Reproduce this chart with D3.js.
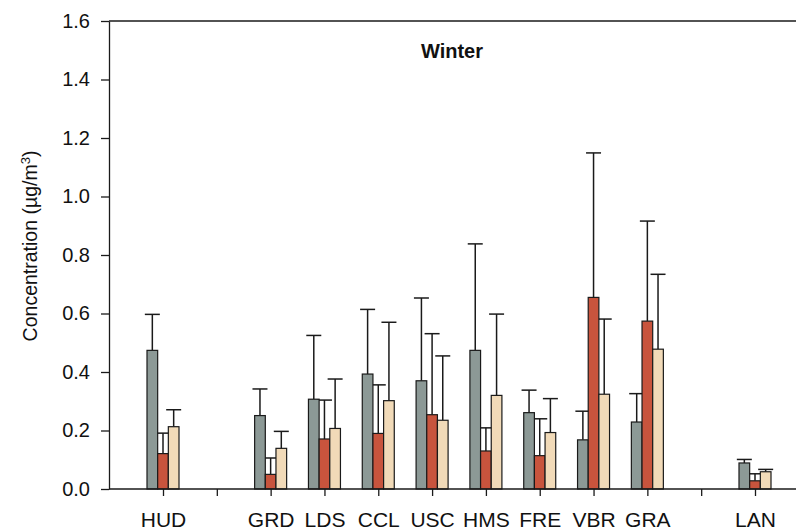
<!DOCTYPE html>
<html>
<head>
<meta charset="utf-8">
<script src="https://cdn.jsdelivr.net/npm/d3@7"></script>
<style>
  html, body { margin: 0; padding: 0; background: #fff; }
  svg { display: block; font-family: "Liberation Sans", Arial, sans-serif; }
</style>
</head>
<body>
<svg id="chart" width="796" height="530"></svg>
<script>
// ---- data ----
const slots = ["HUD", "gap1", "GRD", "LDS", "CCL", "USC", "HMS", "FRE", "VBR", "GRA", "gap2", "LAN"];
const categories = ["HUD", "GRD", "LDS", "CCL", "USC", "HMS", "FRE", "VBR", "GRA", "LAN"];
const seriesNames = ["s1", "s2", "s3"];
const s1Values = [0.474, 0.251, 0.307, 0.393, 0.370, 0.474, 0.261, 0.168, 0.229, 0.089];
const s1Upper  = [0.597, 0.342, 0.525, 0.614, 0.653, 0.838, 0.338, 0.266, 0.326, 0.101];
const s2Values = [0.121, 0.050, 0.171, 0.190, 0.254, 0.130, 0.114, 0.655, 0.574, 0.028];
const s2Upper  = [0.191, 0.106, 0.304, 0.356, 0.531, 0.209, 0.240, 1.149, 0.916, 0.052];
const s3Values = [0.213, 0.139, 0.207, 0.302, 0.235, 0.320, 0.193, 0.324, 0.478, 0.059];
const s3Upper  = [0.271, 0.197, 0.376, 0.570, 0.455, 0.598, 0.309, 0.581, 0.734, 0.067];
const yTicks = [0, 0.2, 0.4, 0.6, 0.8, 1.0, 1.2, 1.4, 1.6];
const colors = ["#8c9996", "#c8543d", "#f1dab8"];
const title = "Winter";

// ---- layout ----
const svg = d3.select("#chart");
const mLeft = 109, mRight = 796, mTop = 21, mBottom = 489;

const x = d3.scalePoint().domain(slots).range([163, 755]);
const xInner = d3.scaleBand().domain(seriesNames).range([-16, 16]);
const y = d3.scaleLinear().domain([0, 1.6]).range([mBottom, mTop]);

const rows = [];
categories.forEach((c, i) => {
  rows.push({cat: c, s: "s1", v: s1Values[i], u: s1Upper[i], col: colors[0]});
  rows.push({cat: c, s: "s2", v: s2Values[i], u: s2Upper[i], col: colors[1]});
  rows.push({cat: c, s: "s3", v: s3Values[i], u: s3Upper[i], col: colors[2]});
});

// error bars (drawn first, bars over)
const eb = svg.append("g").attr("stroke", "#1a1a1a").attr("stroke-width", 1.5);
rows.forEach(d => {
  const cx = x(d.cat) + xInner(d.s) + xInner.bandwidth() / 2;
  eb.append("line").attr("x1", cx).attr("x2", cx).attr("y1", y(d.v)).attr("y2", y(d.u));
  eb.append("line").attr("x1", cx - 7.5).attr("x2", cx + 7.5).attr("y1", y(d.u)).attr("y2", y(d.u));
});

// bars
svg.append("g").selectAll("rect").data(rows).join("rect")
  .attr("x", d => x(d.cat) + xInner(d.s))
  .attr("y", d => y(d.v))
  .attr("width", xInner.bandwidth())
  .attr("height", d => y(0) - y(d.v))
  .attr("fill", d => d.col)
  .attr("stroke", "#1a1a1a")
  .attr("stroke-width", 1.2);

// y axis
const yAxis = svg.append("g").attr("transform", `translate(${mLeft},0)`)
  .call(d3.axisLeft(y).tickValues(yTicks).tickFormat(d3.format(".1f")).tickSize(8).tickSizeOuter(0).tickPadding(11));
yAxis.select(".domain").attr("stroke", "#1a1a1a").attr("stroke-width", 1.3);
yAxis.selectAll(".tick line").attr("stroke", "#1a1a1a").attr("stroke-width", 1.3);
yAxis.selectAll("text").attr("font-size", 20).attr("fill", "#111").attr("font-family", "Liberation Sans, Arial, sans-serif");

// x axis
const xAxis = svg.append("g").attr("transform", `translate(0,${mBottom})`)
  .call(d3.axisBottom(x).tickFormat(d => d.startsWith("gap") ? "" : d).tickSize(7).tickSizeOuter(0).tickPadding(16));
xAxis.select(".domain").attr("d", `M${mLeft},0H${mRight}`).attr("stroke", "#1a1a1a").attr("stroke-width", 1.3);
xAxis.selectAll(".tick line").attr("stroke", "#1a1a1a").attr("stroke-width", 1.3);
xAxis.selectAll("text").attr("font-size", 21).attr("fill", "#111").attr("font-family", "Liberation Sans, Arial, sans-serif");

// top frame line
svg.append("line").attr("x1", mLeft).attr("x2", mRight).attr("y1", mTop).attr("y2", mTop)
  .attr("stroke", "#1a1a1a").attr("stroke-width", 1.3);

// title
svg.append("text").attr("x", 452).attr("y", 57.5).attr("text-anchor", "middle")
  .attr("font-size", 20).attr("font-weight", "bold").attr("fill", "#111").text(title);

// y label
const yl = svg.append("text").attr("transform", "translate(37,246) rotate(-90)")
  .attr("text-anchor", "middle").attr("font-size", 19.5).attr("fill", "#111");
yl.append("tspan").text("Concentration (µg/m");
yl.append("tspan").attr("baseline-shift", "super").attr("font-size", 13).text("3");
yl.append("tspan").text(")");
</script>
</body>
</html>
